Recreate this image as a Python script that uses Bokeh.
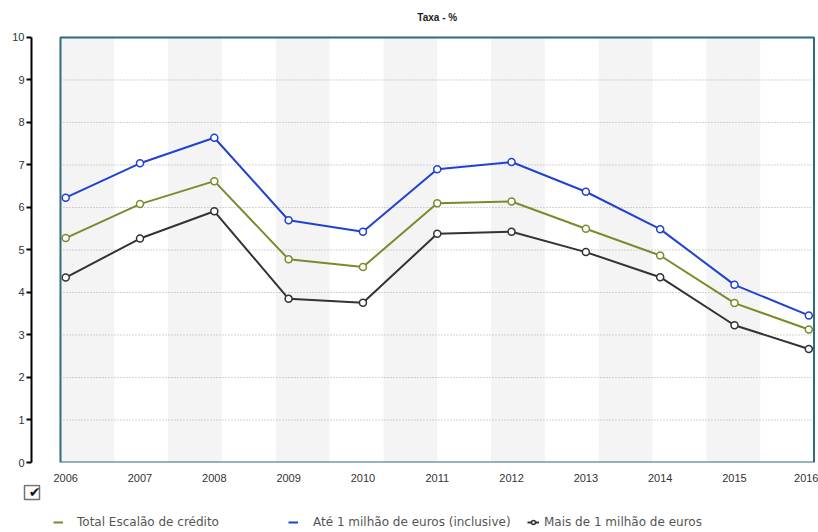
import numpy as np
from bokeh.plotting import figure
from bokeh.layouts import column
from bokeh.models import (FixedTicker, Label, Legend, LegendItem, BoxAnnotation,
                          Range1d)
from bokeh.embed import file_html
from bokeh.resources import INLINE

# --- data -------------------------------------------------------------
years = [2006, 2007, 2008, 2009, 2010, 2011, 2012, 2013, 2014, 2015, 2016]
total_escalao = [5.28, 6.08, 6.62, 4.78, 4.60, 6.10, 6.14, 5.50, 4.87, 3.75, 3.13]
ate_1_milhao = [6.23, 7.04, 7.64, 5.70, 5.43, 6.90, 7.07, 6.37, 5.49, 4.18, 3.46]
mais_1_milhao = [4.35, 5.27, 5.91, 3.85, 3.76, 5.38, 5.43, 4.95, 4.36, 3.23, 2.67]
y_ticks = [0, 1, 2, 3, 4, 5, 6, 7, 8, 9, 10]
grid_levels = [1, 2, 3, 4, 5, 6, 7, 8, 9]
chart_title = "Taxa - %"
series_names = ["Total Escalão de crédito",
                "Até 1 milhão de euros (inclusive)",
                "Mais de 1 milhão de euros"]

# --- styling ----------------------------------------------------------
OLIVE = "#7b8b2c"
BLUE = "#2142d0"
DARK = "#333333"
FRAME = "#2f6b7c"
BAND = "#f4f4f4"
TXT_FONT = "Liberation Sans"
LEG_FONT = "DejaVu Sans"
series_colors = [OLIVE, BLUE, DARK]

W = 818
MAIN_H, STRIP_H = 484, 48
BORDER_L, BORDER_R = 31, 3

pad = 0.07       # space between the plot box and first/last year
gap = 0.39       # space between the y axis line and the plot box
headroom = 0.87  # room above the top tick for the title
inner_left = years[0] - pad
inner_right = years[-1] + pad

p = figure(width=W, height=MAIN_H, output_backend="svg", toolbar_location=None,
           title=None,
           x_range=Range1d(inner_left - gap, inner_right + 0.02),
           y_range=Range1d(y_ticks[0], y_ticks[-1] + headroom),
           min_border_left=BORDER_L, min_border_right=BORDER_R,
           min_border_top=0, min_border_bottom=0)
p.outline_line_color = None
p.xgrid.visible = False
p.ygrid.visible = False
p.background_fill_color = "white"

# alternating vertical bands inside the plot box
edges = np.linspace(inner_left, inner_right, 15)
p.quad(left=edges[:-1:2], right=edges[1::2], bottom=y_ticks[0], top=y_ticks[-1],
       fill_color=BAND, line_color=None)

# dotted horizontal guides
p.segment(x0=[inner_left + 0.04] * len(grid_levels), x1=[inner_right] * len(grid_levels),
          y0=grid_levels, y1=grid_levels, line_color="#a8a8a8", line_width=1,
          line_dash="1 2")

# plot box border
p.add_layout(BoxAnnotation(left=inner_left, right=inner_right,
                           bottom=y_ticks[0], top=y_ticks[-1],
                           fill_alpha=0, line_color=FRAME, line_alpha=1,
                           line_width=2))

# series
for vals, col in zip([total_escalao, ate_1_milhao, mais_1_milhao], series_colors):
    p.line(years, vals, line_color=col, line_width=2)
    p.scatter(years, vals, size=7, fill_color="white", line_color=col, line_width=1.5)

# y axis
p.yaxis.ticker = FixedTicker(ticks=y_ticks)
p.yaxis.bounds = (y_ticks[0], y_ticks[-1])
p.yaxis.axis_line_color = "black"
p.yaxis.axis_line_width = 2
p.yaxis.major_tick_line_color = "black"
p.yaxis.major_tick_line_width = 2
p.yaxis.major_tick_out = 5
p.yaxis.major_tick_in = 0
p.yaxis.minor_tick_line_color = None
p.yaxis.major_label_standoff = 2
p.yaxis.major_label_text_font = TXT_FONT
p.yaxis.major_label_text_font_size = "11px"
p.yaxis.major_label_text_color = DARK

# x axis
p.xaxis.ticker = FixedTicker(ticks=years)
p.xaxis.axis_line_color = None
p.xaxis.major_tick_line_color = None
p.xaxis.minor_tick_line_color = None
p.xaxis.major_label_standoff = 5
p.xaxis.major_label_text_font = TXT_FONT
p.xaxis.major_label_text_font_size = "11px"
p.xaxis.major_label_text_color = DARK

# title over the plot box
p.add_layout(Label(x=(inner_left + inner_right) / 2, y=y_ticks[-1], y_offset=20,
                   text=chart_title, text_align="center", text_baseline="middle",
                   text_font=TXT_FONT, text_font_style="bold",
                   text_font_size="10px", text_color="#222222"))

# --- strip under the chart: checkbox and legend ------------------------
# its ranges are plain pixels across the whole strip
s = figure(width=W, height=STRIP_H, output_backend="svg", toolbar_location=None,
           title=None, x_range=Range1d(0, W), y_range=Range1d(0, STRIP_H),
           x_axis_location=None, y_axis_location=None, min_border=0)
s.outline_line_color = None
s.xgrid.visible = False
s.ygrid.visible = False
strip_left = 0
try:
    s.frame_align = False          # keep the strip frame full width
except AttributeError:
    # frames get aligned with the chart above: use the chart's frame span
    s.min_border_left, s.min_border_right = BORDER_L, BORDER_R
    s.x_range.start, s.x_range.end = BORDER_L, W - BORDER_R
    strip_left = BORDER_L

# checkbox icon
s.add_layout(BoxAnnotation(left=max(24, strip_left + 1), right=39, bottom=33, top=47,
                           fill_color="white", fill_alpha=1,
                           line_color="#707070", line_alpha=1, line_width=1.5))
s.add_layout(Label(x=34, y=41, text="✔", text_align="center", text_baseline="middle",
                   text_font=LEG_FONT, text_font_size="14px", text_color="#111111"))

# one legend block per series (left x, glyph width, label standoff)
legend_spots = [(53, 10, 14), (288, 10, 15), (527, 12, 5)]
for i, (name, col) in enumerate(zip(series_names, series_colors)):
    x0, gw, stand = legend_spots[i]
    rs = [s.line(x=[np.nan], y=[np.nan], line_color=col, line_width=2)]
    if i == 2:
        rs.append(s.scatter(x=[np.nan], y=[np.nan], size=7, fill_color="white",
                            line_color=col, line_width=1.5))
    lg = Legend(items=[LegendItem(label=name, renderers=rs)],
                location=(x0 - strip_left, 3),
                orientation="horizontal", margin=0, padding=0, spacing=0,
                glyph_width=gw, glyph_height=10, label_standoff=stand,
                label_height=12, label_text_font=LEG_FONT,
                label_text_font_size="12px", label_text_color="#555555",
                background_fill_alpha=0, border_line_color=None)
    s.add_layout(lg, "center")

layout = column(p, s, spacing=0)
open("out.html", "w").write(file_html(layout, INLINE))
